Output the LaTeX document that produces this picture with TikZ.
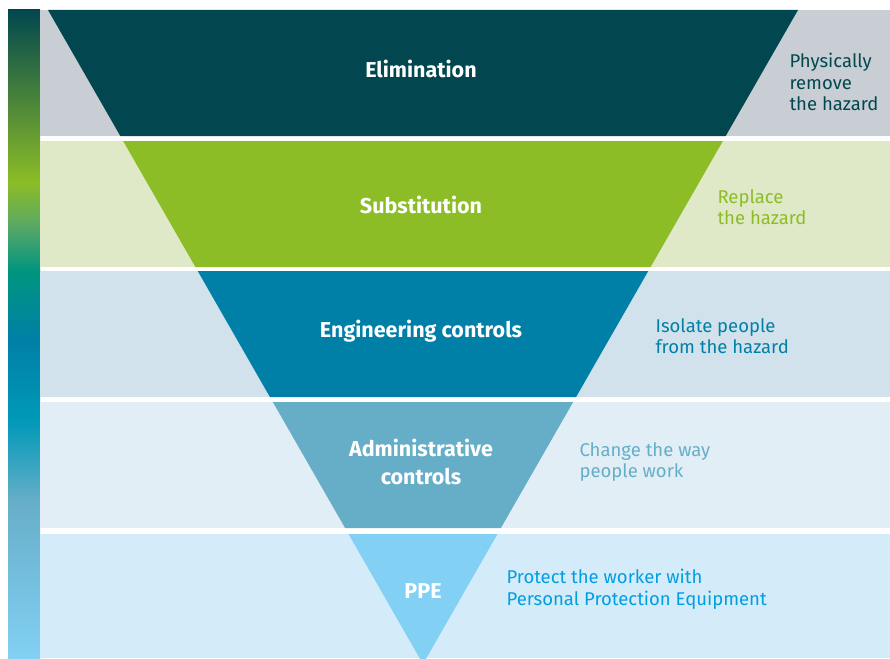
\documentclass[tikz,border=0pt]{standalone}
\usepackage{fontspec}
\setmainfont{Fira Sans}
\usetikzlibrary{positioning}

\definecolor{elim}{HTML}{02474F}
\definecolor{subst}{HTML}{8CBD26}
\definecolor{engin}{HTML}{0080A6}
\definecolor{admin}{HTML}{66AEC8}
\definecolor{ppe}{HTML}{82D0F4}
\definecolor{ppetext}{HTML}{009FE3}
\definecolor{elimbg}{HTML}{C9CED4}
\definecolor{substbg}{HTML}{DFE9C7}
\definecolor{enginbg}{HTML}{D2E2EC}
\definecolor{adminbg}{HTML}{E2EEF5}
\definecolor{ppebg}{HTML}{D4EBFA}
\definecolor{scalegreen}{HTML}{5AA865}
\definecolor{scaleteal}{HTML}{00957F}
\definecolor{scalecyan}{HTML}{0099B8}

\begin{document}
\begin{tikzpicture}[x=1pt, y=-1pt,
level/.style={font=\bfseries\fontsize{21.5}{28}\selectfont, text=white, align=center},
note/.style={font=\fontsize{18.5}{21.5}\selectfont, align=left, anchor=west},
]
\useasboundingbox (0,0) rectangle (890,658);

\begin{scope}
\clip (0,0) rectangle (890,658);

% colour scale on the left
\shade[top color=elim, bottom color=subst]            (8,10)  rectangle (40,183);
\shade[top color=subst, bottom color=scalegreen]      (8,182) rectangle (40,226);
\shade[top color=scalegreen, bottom color=scaleteal]  (8,225) rectangle (40,271);
\shade[top color=scaleteal, bottom color=engin]       (8,270) rectangle (40,341);
\shade[top color=engin, bottom color=scalecyan]       (8,340) rectangle (40,421);
\shade[top color=scalecyan, bottom color=admin]       (8,420) rectangle (40,501);
\shade[top color=admin, bottom color=ppe]             (8,500) rectangle (40,658);

% background bands
\fill[elimbg]  (40,10)  rectangle (890,136);
\fill[substbg] (40,141) rectangle (890,267);
\fill[enginbg] (40,271) rectangle (890,397);
\fill[adminbg] (40,402) rectangle (890,528);
\fill[ppebg]   (40,534) rectangle (890,658);

% the inverted triangle, one slice per band
\fill[elim]  (48,10)    -- (798,10)    -- (725.7,136) -- (120.3,136) -- cycle;
\fill[subst] (123.1,141) -- (722.9,141) -- (650.6,267) -- (195.4,267) -- cycle;
\fill[engin] (197.7,271) -- (648.3,271) -- (576.1,397) -- (269.9,397) -- cycle;
\fill[admin] (272.8,402) -- (573.2,402) -- (500.9,528) -- (345.1,528) -- cycle;
\fill[ppe]   (348.5,534) -- (497.5,534) -- (423,664) -- cycle;
\end{scope}

\node[level] (elimination)    at (421,69)  {Elimination};
\node[level] (substitution)   at (421,205) {Substitution};
\node[level] (engineering)    at (421,331) {Engineering controls};
\node[level] (administrative) at (421,462) {Administrative\\controls};
\node[level] (protection)     at (423,591) {PPE};

\node[note, text=elim]    (remove)  at (786,82)  {Physically\\remove\\the hazard};
\node[note, text=subst]   (replace) at (714,207) {Replace\\the hazard};
\node[note, text=engin]   (isolate) at (652,336) {Isolate people\\from the hazard};
\node[note, text=admin]   (change)  at (576,462) {Change the way\\people work};
\node[note, text=ppetext] (protect) at (503,589) {Protect the worker with\\Personal Protection Equipment};

\end{tikzpicture}
\end{document}
